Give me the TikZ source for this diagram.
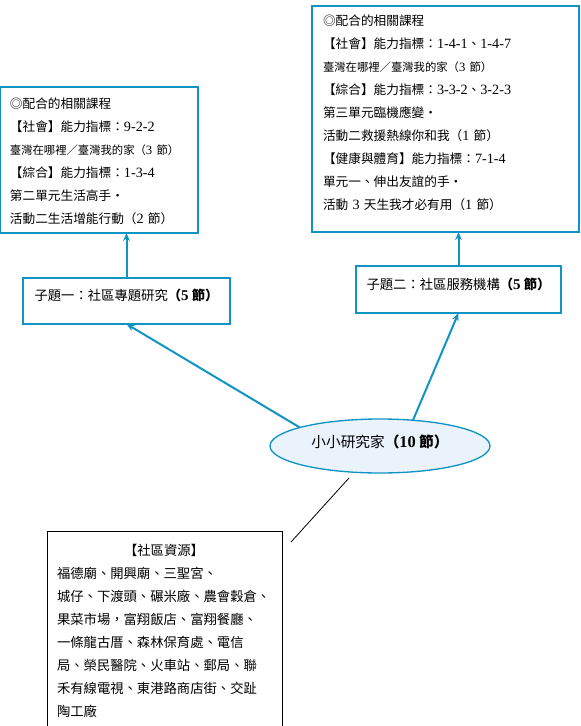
\documentclass[tikz,border=0pt]{standalone}
\usepackage{fontspec}
\setmainfont{Noto Sans CJK TC}
\newfontfamily\lt[Scale=1.12]{Liberation Serif}
\usetikzlibrary{arrows.meta,shapes.geometric}
\definecolor{bl}{RGB}{16,148,196}
\definecolor{ellfill}{RGB}{234,243,251}
\tikzset{
  bbox/.style={draw=bl, line width=1pt, inner sep=0pt, outer sep=0pt, anchor=north west},
  txt/.style={inner sep=0pt, outer sep=0pt, anchor=base west, text width=#1, align=left},
  arr/.style={draw=bl, line width=1.5pt, -{Stealth[length=6pt,width=5pt]}},
  boxfont/.style={font=\fontsize{9.5}{17.2}\selectfont},
  resfont/.style={font=\fontsize{10}{17.25}\selectfont},
}
\begin{document}
\begin{tikzpicture}[x=0.75pt,y=-0.75pt]
\useasboundingbox (0,0) rectangle (581,726);
% boxes
\node[bbox, minimum width=148pt, minimum height=109.5pt] (b1) at (0.7,87) {};
\node[bbox, minimum width=200.25pt, minimum height=169.5pt] (b2) at (312,6) {};
\node[bbox, minimum width=155.25pt, minimum height=34.5pt] (s1) at (23,278) {};
\node[bbox, minimum width=153.75pt, minimum height=35.25pt] (s2) at (356,266) {};
\node[draw=bl, fill=ellfill, line width=1pt, ellipse, inner sep=0pt, outer sep=0pt,
      minimum width=165pt, minimum height=40.5pt] (ell) at (380,446) {};
\node[draw=black, line width=0.6pt, anchor=north west, inner sep=0pt, outer sep=0pt,
      minimum width=176.25pt, minimum height=160pt] (res) at (47,531) {};
% texts
\node[txt=145pt, boxfont] (t1) at (10,108.8) {%
◎配合的相關課程\\
【社會】能力指標：{\lt 9-2-2}\\
{\fontsize{8.5}{17.2}\selectfont 臺灣在哪裡／臺灣我的家（{\lt 3} 節）}\\
【綜合】能力指標：{\lt 1-3-4}\\
第二單元生活高手‧\\
活動二生活增能行動（{\lt 2} 節）};
\node[txt=190pt, boxfont] (t2) at (323,25.8) {%
◎配合的相關課程\\
【社會】能力指標：{\lt 1-4-1}、{\lt 1-4-7}\\
{\fontsize{8.5}{17.2}\selectfont 臺灣在哪裡／臺灣我的家（{\lt 3} 節）}\\
【綜合】能力指標：{\lt 3-3-2}、{\lt 3-2-3}\\
第三單元臨機應變‧\\
活動二救援熱線你和我（{\lt 1} 節）\\
【健康與體育】能力指標：{\lt 7-1-4}\\
單元一、伸出友誼的手‧\\
活動 {\lt 3} 天生我才必有用（{\lt 1} 節）};
\node[inner sep=0pt, anchor=base, font=\fontsize{10}{12}\selectfont] (t3) at (126.5,300)
  {子題一：社區專題研究\textbf{（{\lt 5} 節）}};
\node[inner sep=0pt, anchor=base, font=\fontsize{10}{12}\selectfont] (t4) at (458.5,289)
  {子題二：社區服務機構\textbf{（{\lt 5} 節）}};
\node[inner sep=0pt, anchor=base, font=\fontsize{11}{13}\selectfont] (t5) at (380,447.6)
  {小小研究家\textbf{（{\lt 10} 節）}};
\node[inner sep=0pt, anchor=base, resfont] (t6) at (164,555) {【社區資源】};
\node[txt=170pt, resfont] (t7) at (57,578) {%
福德廟、開興廟、三聖宮、\\
城仔、下渡頭、碾米廠、農會穀倉、\\
果菜市場，富翔飯店、富翔餐廳、\\
一條龍古厝、森林保育處、電信\\
局、榮民醫院、火車站、郵局、聯\\
禾有線電視、東港路商店街、交趾\\
陶工廠};
% connectors
\draw[arr] (s1.north) -- (s1.north |- b1.south);
\draw[arr] (s2.north) -- (s2.north |- b2.south);
\draw[arr] (ell.167) -- (s1.south);
\draw[arr] (ell.38) -- (s2.south);
\coordinate (l1) at (349,478);
\coordinate (l2) at (291,542);
\draw[black, line width=0.6pt] (l1) -- (l2);
\end{tikzpicture}
\end{document}
